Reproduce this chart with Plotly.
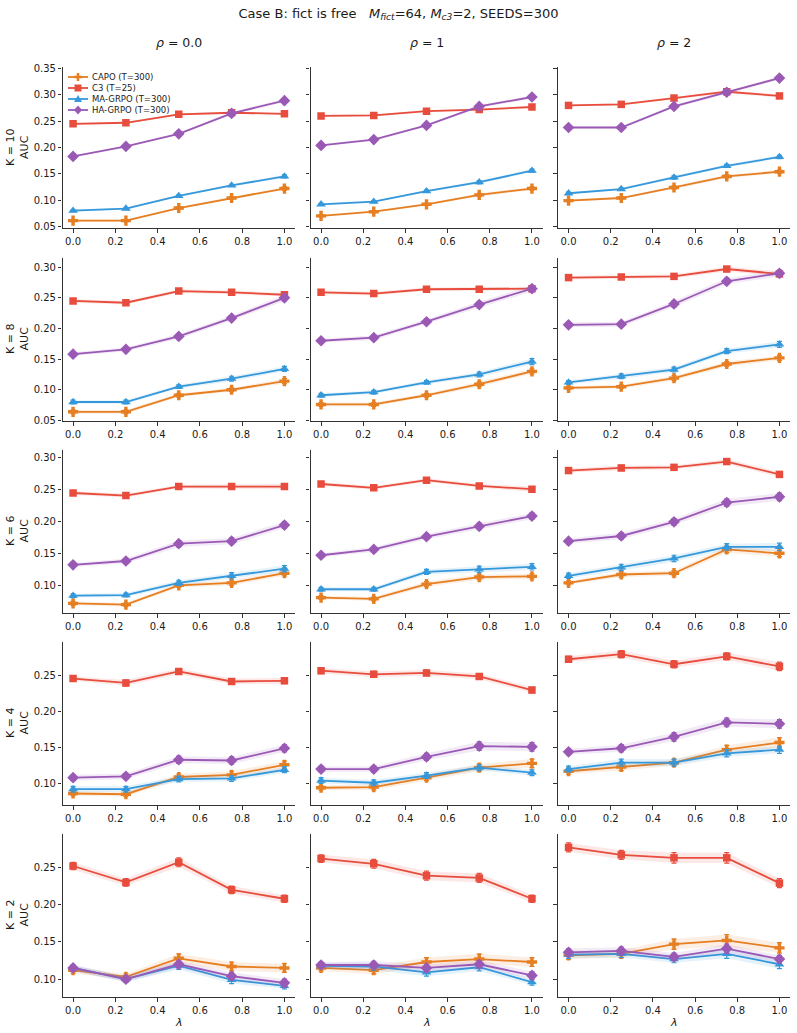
import plotly.graph_objects as go
from plotly.subplots import make_subplots

# ---------------- data ----------------
lam = [0.0, 0.25, 0.5, 0.75, 1.0]
k_values = [10, 8, 6, 4, 2]
rho_labels = ["0.0", "1", "2"]
series_names = ["CAPO (T=300)", "C3 (T=25)", "MA-GRPO (T=300)", "HA-GRPO (T=300)"]

# AUC per K: list over rho (0.0, 1, 2), each a list over lambda
capo_auc = {
    10: [[0.061, 0.061, 0.085, 0.104, 0.122], [0.070, 0.078, 0.092, 0.110, 0.122], [0.099, 0.104, 0.124, 0.145, 0.154]],
    8:  [[0.064, 0.064, 0.091, 0.100, 0.114], [0.076, 0.076, 0.091, 0.109, 0.130], [0.103, 0.105, 0.119, 0.142, 0.152]],
    6:  [[0.072, 0.070, 0.100, 0.104, 0.119], [0.081, 0.079, 0.102, 0.113, 0.114], [0.104, 0.117, 0.119, 0.156, 0.150]],
    4:  [[0.086, 0.085, 0.109, 0.112, 0.126], [0.094, 0.095, 0.108, 0.122, 0.128], [0.117, 0.123, 0.129, 0.147, 0.157]],
    2:  [[0.112, 0.103, 0.128, 0.117, 0.115], [0.115, 0.112, 0.123, 0.127, 0.123], [0.132, 0.134, 0.147, 0.152, 0.142]],
}
c3_auc = {
    10: [[0.245, 0.247, 0.263, 0.266, 0.264], [0.260, 0.261, 0.269, 0.272, 0.277], [0.280, 0.282, 0.294, 0.306, 0.298]],
    8:  [[0.245, 0.242, 0.261, 0.259, 0.255], [0.259, 0.257, 0.264, 0.264, 0.265], [0.283, 0.284, 0.285, 0.297, 0.289]],
    6:  [[0.244, 0.240, 0.254, 0.254, 0.254], [0.258, 0.252, 0.264, 0.255, 0.250], [0.279, 0.283, 0.284, 0.293, 0.273]],
    4:  [[0.246, 0.240, 0.256, 0.242, 0.243], [0.257, 0.252, 0.254, 0.249, 0.230], [0.273, 0.280, 0.266, 0.277, 0.263]],
    2:  [[0.252, 0.230, 0.257, 0.220, 0.208], [0.262, 0.255, 0.239, 0.236, 0.208], [0.277, 0.267, 0.263, 0.263, 0.229]],
}
ma_auc = {
    10: [[0.080, 0.084, 0.108, 0.128, 0.145], [0.092, 0.097, 0.117, 0.134, 0.156], [0.113, 0.121, 0.143, 0.165, 0.182]],
    8:  [[0.080, 0.080, 0.105, 0.118, 0.134], [0.091, 0.096, 0.112, 0.125, 0.146], [0.112, 0.122, 0.133, 0.163, 0.174]],
    6:  [[0.084, 0.085, 0.104, 0.115, 0.126], [0.094, 0.094, 0.121, 0.125, 0.129], [0.115, 0.128, 0.142, 0.160, 0.160]],
    4:  [[0.092, 0.092, 0.106, 0.107, 0.119], [0.104, 0.101, 0.111, 0.122, 0.115], [0.120, 0.129, 0.129, 0.142, 0.147]],
    2:  [[0.115, 0.100, 0.118, 0.099, 0.091], [0.118, 0.117, 0.109, 0.116, 0.096], [0.133, 0.134, 0.127, 0.134, 0.120]],
}
ha_auc = {
    10: [[0.183, 0.202, 0.226, 0.265, 0.289], [0.204, 0.215, 0.242, 0.278, 0.296], [0.238, 0.238, 0.278, 0.305, 0.332]],
    8:  [[0.158, 0.166, 0.187, 0.217, 0.250], [0.180, 0.185, 0.211, 0.239, 0.265], [0.206, 0.207, 0.240, 0.277, 0.290]],
    6:  [[0.132, 0.138, 0.165, 0.169, 0.194], [0.147, 0.156, 0.176, 0.192, 0.208], [0.169, 0.177, 0.199, 0.229, 0.238]],
    4:  [[0.108, 0.110, 0.133, 0.132, 0.149], [0.120, 0.120, 0.137, 0.152, 0.151], [0.144, 0.149, 0.165, 0.185, 0.183]],
    2:  [[0.115, 0.100, 0.120, 0.104, 0.095], [0.119, 0.119, 0.115, 0.120, 0.105], [0.136, 0.138, 0.130, 0.141, 0.127]],
}

# standard errors (estimated from error bars)
capo_err = {
    10: [[0.002, 0.002, 0.002, 0.002, 0.003], [0.002, 0.002, 0.002, 0.003, 0.003], [0.002, 0.002, 0.003, 0.003, 0.003]],
    8:  [[0.003, 0.003, 0.003, 0.003, 0.004], [0.003, 0.003, 0.003, 0.004, 0.004], [0.003, 0.003, 0.004, 0.004, 0.004]],
    6:  [[0.003, 0.003, 0.003, 0.004, 0.004], [0.003, 0.003, 0.004, 0.004, 0.004], [0.003, 0.004, 0.004, 0.005, 0.005]],
    4:  [[0.003, 0.003, 0.004, 0.005, 0.005], [0.003, 0.004, 0.004, 0.005, 0.006], [0.004, 0.005, 0.004, 0.006, 0.007]],
    2:  [[0.004, 0.004, 0.006, 0.006, 0.006], [0.004, 0.005, 0.006, 0.007, 0.006], [0.005, 0.005, 0.007, 0.008, 0.007]],
}
c3_err = {
    10: [[0.002, 0.002, 0.002, 0.002, 0.002], [0.002, 0.002, 0.002, 0.002, 0.002], [0.002, 0.002, 0.002, 0.003, 0.003]],
    8:  [[0.003, 0.003, 0.003, 0.003, 0.003], [0.003, 0.003, 0.003, 0.003, 0.003], [0.003, 0.003, 0.003, 0.004, 0.004]],
    6:  [[0.003, 0.003, 0.003, 0.004, 0.004], [0.003, 0.003, 0.003, 0.003, 0.004], [0.003, 0.004, 0.003, 0.004, 0.004]],
    4:  [[0.003, 0.004, 0.004, 0.004, 0.004], [0.004, 0.004, 0.004, 0.004, 0.004], [0.004, 0.005, 0.005, 0.005, 0.006]],
    2:  [[0.005, 0.005, 0.006, 0.005, 0.005], [0.005, 0.006, 0.006, 0.006, 0.005], [0.006, 0.006, 0.007, 0.007, 0.006]],
}
ma_err = {
    10: [[0.002, 0.002, 0.002, 0.002, 0.003], [0.002, 0.002, 0.002, 0.003, 0.003], [0.002, 0.002, 0.003, 0.003, 0.003]],
    8:  [[0.003, 0.003, 0.003, 0.004, 0.004], [0.003, 0.003, 0.003, 0.004, 0.005], [0.003, 0.004, 0.004, 0.004, 0.005]],
    6:  [[0.003, 0.003, 0.004, 0.005, 0.005], [0.003, 0.003, 0.004, 0.005, 0.005], [0.004, 0.005, 0.005, 0.005, 0.006]],
    4:  [[0.004, 0.004, 0.004, 0.004, 0.004], [0.004, 0.004, 0.004, 0.004, 0.004], [0.004, 0.005, 0.005, 0.005, 0.005]],
    2:  [[0.004, 0.004, 0.005, 0.005, 0.004], [0.004, 0.005, 0.005, 0.005, 0.004], [0.005, 0.005, 0.005, 0.006, 0.006]],
}
ha_err = {
    10: [[0.002, 0.002, 0.002, 0.003, 0.003], [0.002, 0.002, 0.002, 0.003, 0.003], [0.002, 0.002, 0.003, 0.003, 0.003]],
    8:  [[0.003, 0.003, 0.004, 0.004, 0.005], [0.003, 0.004, 0.004, 0.005, 0.005], [0.004, 0.004, 0.005, 0.005, 0.005]],
    6:  [[0.003, 0.004, 0.005, 0.005, 0.005], [0.003, 0.004, 0.004, 0.005, 0.005], [0.004, 0.005, 0.005, 0.006, 0.006]],
    4:  [[0.004, 0.004, 0.005, 0.005, 0.005], [0.004, 0.004, 0.005, 0.006, 0.006], [0.004, 0.005, 0.006, 0.006, 0.006]],
    2:  [[0.004, 0.004, 0.005, 0.005, 0.005], [0.004, 0.005, 0.005, 0.005, 0.005], [0.005, 0.005, 0.005, 0.006, 0.005]],
}

# ---------------- style ----------------
colors = ["#e67e22", "#e74c3c", "#3498db", "#9b59b6"]
symbols = ["cross", "square", "triangle-up", "diamond"]
msizes = [8.5, 7.5, 8.5, 9]
# legend glyph outlines, in pixels around the glyph centre (y up)
glyph_paths = [
    "M-1.3,-4 L1.3,-4 L1.3,-1.3 L4,-1.3 L4,1.3 L1.3,1.3 L1.3,4 L-1.3,4 L-1.3,1.3 L-4,1.3 L-4,-1.3 L-1.3,-1.3 Z",
    "M-3.5,-3.5 L3.5,-3.5 L3.5,3.5 L-3.5,3.5 Z",
    "M-4,-3 L4,-3 L0,4 Z",
    "M0,-4.5 L4,0 L0,4.5 L-4,0 Z",
]
FONT = "DejaVu Sans"
AXC = "#333333"
TXT = "#1a1a1a"

W, H = 797, 1033
ML, MR, MT, MB = 62, 7, 67, 36
PW, PH = W - ML - MR, H - MT - MB
col_px = [(62.5, 295.0), (310.5, 542.5), (558.0, 790.0)]
row_px = [(67, 228), (258, 421), (450, 613), (642, 805), (834, 997)]
y_ranges = {10: [0.047, 0.353], 8: [0.049, 0.315], 6: [0.057, 0.311], 4: [0.070, 0.297], 2: [0.076, 0.295]}


def px_x(x):
    return (x - ML) / PW


def px_y(y):
    return (H - MB - y) / PH


def rgba(hex_c, a):
    h = hex_c.lstrip("#")
    return "rgba(%d,%d,%d,%.2f)" % (int(h[0:2], 16), int(h[2:4], 16), int(h[4:6], 16), a)


fig = make_subplots(rows=5, cols=3)

all_auc = [capo_auc, c3_auc, ma_auc, ha_auc]
all_err = [capo_err, c3_err, ma_err, ha_err]

for ri, k in enumerate(k_values):
    for ci in range(3):
        for si in range(4):
            y = all_auc[si][k][ci]
            e = all_err[si][k][ci]
            up = [a + b for a, b in zip(y, e)]
            lo = [a - b for a, b in zip(y, e)]
            fig.add_trace(go.Scatter(
                x=lam + lam[::-1], y=up + lo[::-1], fill="toself",
                fillcolor=rgba(colors[si], 0.13), line=dict(width=0),
                mode="lines", hoverinfo="skip", showlegend=False),
                row=ri + 1, col=ci + 1)
            fig.add_trace(go.Scatter(
                x=lam, y=y, mode="lines+markers", name=series_names[si],
                line=dict(color=colors[si], width=1.8),
                marker=dict(symbol=symbols[si], size=msizes[si], color=colors[si],
                            line=dict(width=0)),
                error_y=dict(type="data", array=e, visible=True, color=colors[si],
                             thickness=1.2, width=2.5),
                showlegend=False),
                row=ri + 1, col=ci + 1)

# axes
for ri, k in enumerate(k_values):
    for ci in range(3):
        idx = ri * 3 + ci + 1
        xa = "xaxis" if idx == 1 else "xaxis%d" % idx
        ya = "yaxis" if idx == 1 else "yaxis%d" % idx
        x0, x1 = col_px[ci]
        y0, y1 = row_px[ri]
        fig.layout[xa].update(
            domain=[px_x(x0), px_x(x1)], range=[-0.05, 1.05],
            tickvals=[0, 0.2, 0.4, 0.6, 0.8, 1.0],
            ticktext=["0.0", "0.2", "0.4", "0.6", "0.8", "1.0"],
            showline=True, linecolor=AXC, linewidth=1.2, mirror=False,
            showgrid=False, zeroline=False, ticks="outside", ticklen=3.5,
            tickwidth=1, tickcolor=AXC,
            tickfont=dict(family=FONT, size=10, color=TXT))
        fig.layout[ya].update(
            domain=[px_y(y1), px_y(y0)], range=y_ranges[k], dtick=0.05, tick0=0,
            tickformat=".2f", showticklabels=(ci == 0),
            showline=True, linecolor=AXC, linewidth=1.2, mirror=False,
            showgrid=False, zeroline=False, ticks="outside", ticklen=3.5,
            tickwidth=1, tickcolor=AXC,
            tickfont=dict(family=FONT, size=10, color=TXT))

annotations = []
shapes = []
# column titles and x-axis titles
for ci, r in enumerate(rho_labels):
    cx = (col_px[ci][0] + col_px[ci][1]) / 2
    annotations.append(dict(
        text="<i>\u03c1</i> = %s" % r, x=px_x(cx), y=px_y(42), xref="paper", yref="paper",
        xanchor="center", yanchor="middle", showarrow=False,
        font=dict(family=FONT, size=12.5, color=TXT)))
    annotations.append(dict(
        text="<i>\u03bb</i>", x=px_x(cx), y=px_y(1022), xref="paper", yref="paper",
        xanchor="center", yanchor="middle", showarrow=False,
        font=dict(family=FONT, size=11, color=TXT)))
# row titles
for ri, k in enumerate(k_values):
    cy = (row_px[ri][0] + row_px[ri][1]) / 2
    annotations.append(dict(
        text="K = %d<br>AUC" % k, x=px_x(17.5), y=px_y(cy), xref="paper", yref="paper",
        xanchor="center", yanchor="middle", textangle=-90, showarrow=False,
        font=dict(family=FONT, size=11, color=TXT)))
# legend (compact, inside top-left panel): line + glyph shapes and a plain label
for si in range(4):
    ly_px = 77 + 11 * si
    shapes.append(dict(
        type="line", xref="paper", yref="paper",
        x0=px_x(68), x1=px_x(88), y0=px_y(ly_px), y1=px_y(ly_px),
        line=dict(color=colors[si], width=1.8)))
    shapes.append(dict(
        type="path", xref="paper", yref="paper",
        xsizemode="pixel", ysizemode="pixel",
        xanchor=px_x(78), yanchor=px_y(ly_px),
        path=glyph_paths[si], fillcolor=colors[si], line=dict(width=0)))
    annotations.append(dict(
        text=series_names[si], x=px_x(90), y=px_y(ly_px), xref="paper", yref="paper",
        xanchor="left", yanchor="middle", showarrow=False,
        font=dict(family=FONT, size=8.5, color=TXT)))

fig.update_layout(
    width=W, height=H,
    margin=dict(l=ML, r=MR, t=MT, b=MB),
    paper_bgcolor="white", plot_bgcolor="white",
    showlegend=False,
    title=dict(
        text="Case B: fict is free\u00a0\u00a0\u00a0<i>M</i><sub><i>fict</i></sub>=64, "
             "<i>M</i><sub><i>c3</i></sub>=2, SEEDS=300",
        x=0.5, xref="container", xanchor="center",
        y=1 - 13 / H, yref="container", yanchor="middle",
        font=dict(family=FONT, size=13, color=TXT)),
    annotations=annotations,
    shapes=shapes,
    font=dict(family=FONT, color=TXT),
)

fig.write_html("out.html")
